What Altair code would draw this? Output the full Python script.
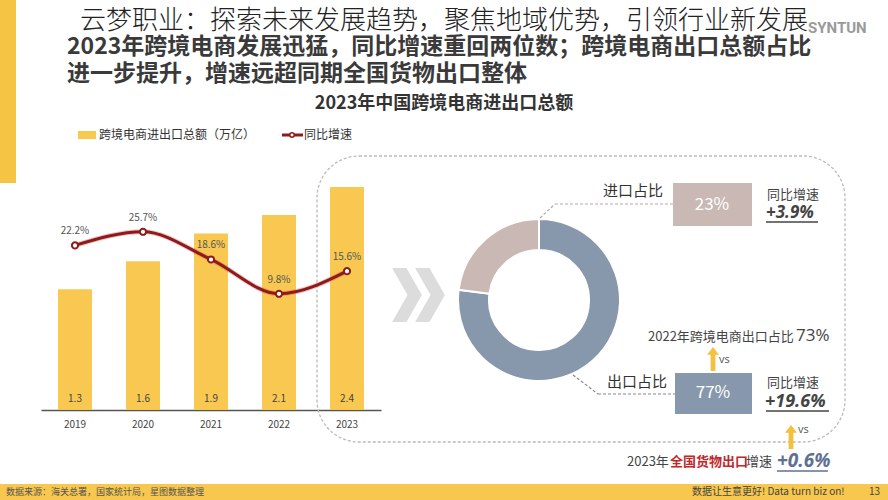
import altair as alt
import pandas as pd

FONT = "Noto Sans CJK SC"
NUMF = "Open Sans"

# ---------------- data ----------------
years = ["2019", "2020", "2021", "2022", "2023"]
amount = [1.3, 1.6, 1.9, 2.1, 2.4]          # 万亿
growth = [22.2, 25.7, 18.6, 9.8, 15.6]      # %

parts = ["出口占比", "进口占比"]
shares = [77, 23]
part_rank = [1, 2]

TITLE = "云梦职业：探索未来发展趋势，聚焦地域优势，引领行业新发展"
LOGO = "SYNTUN"
HEAD1 = "2023年跨境电商发展迅猛，同比增速重回两位数；跨境电商出口总额占比"
HEAD2 = "进一步提升，增速远超同期全国货物出口整体"
SUB = "2023年中国跨境电商进出口总额"
LEG_BAR = "跨境电商进出口总额（万亿）"
LEG_LINE = "同比增速"
IMP_LABEL = "进口占比"
EXP_LABEL = "出口占比"
IMP_VAL = "23%"
EXP_VAL = "77%"
YOY = "同比增速"
IMP_YOY = "+3.9%"
EXP_YOY = "+19.6%"
PREV_TXT = "2022年跨境电商出口占比"
PREV_VAL = "73%"
VS = "vs"
NAT_A = "2023年"
NAT_B = "全国货物出口"
NAT_C = "增速"
NAT_VAL = "+0.6%"
SRC = "数据来源：海关总署，国家统计局，星图数据整理"
SLOGAN = "数据让生意更好! Data turn biz on!"
PAGE = "13"

bars_df = pd.DataFrame({"year": years, "amount": amount, "growth": growth})
donut_df = pd.DataFrame({"part": parts, "share": shares, "rank": part_rank})
ONE = pd.DataFrame({"k": [0]})

YELLOW = "#F8C851"
DARKRED = "#8E1B1B"
IMPC = "#C9B8B3"
EXPC = "#8797AC"

# ---------------- helpers ----------------
def txt(t, x, y, size=12, color="#333333", weight="normal", align="left",
        font=FONT, style="normal", baseline="middle"):
    return alt.Chart(ONE).mark_text(
        text=t, fontSize=size, color=color, fontWeight=weight, align=align,
        font=font, fontStyle=style, baseline=baseline
    ).encode(x=alt.value(x), y=alt.value(y))


def box(x1, x2, y1, y2, color, **kw):
    return alt.Chart(ONE).mark_rect(color=color, **kw).encode(
        x=alt.value(x1), x2=alt.value(x2), y=alt.value(y1), y2=alt.value(y2))


def seg(x1, y1, x2, y2, color="#888888", width=1.0, dash=None):
    kw = dict(color=color, strokeWidth=width)
    if dash:
        kw["strokeDash"] = dash
    return alt.Chart(ONE).mark_rule(**kw).encode(
        x=alt.value(x1), y=alt.value(y1), x2=alt.value(x2), y2=alt.value(y2))


def shape(path, x, y, size, color):
    return alt.Chart(ONE).mark_point(shape=path, size=size, filled=True,
                                     color=color, opacity=1, strokeWidth=0).encode(
        x=alt.value(x), y=alt.value(y))


CHEVRON = "M-0.55,-1 L-0.02,-1 L0.55,0 L-0.02,1 L-0.55,1 L0.02,0 Z"
ARROW = "M0,-1 L0.5,-0.35 L0.2,-0.35 L0.2,1 L-0.2,1 L-0.2,-0.35 L-0.5,-0.35 Z"

X = alt.X("year:N", title=None,
          scale=alt.Scale(domain=years, range=[41, 381], paddingInner=0.5, paddingOuter=0.25),
          axis=alt.Axis(offset=-90, domainColor="#555555", domainWidth=1.5, ticks=False,
                        labelFontSize=10, labelColor="#444444", labelPadding=9,
                        labelFont=FONT, labelAngle=0, grid=False))
YB = alt.Y("amount:Q", title=None, axis=None,
           scale=alt.Scale(domain=[0, 2.4], range=[410, 187], zero=True, nice=False))
YL = alt.Y("growth:Q", title=None, axis=None,
           scale=alt.Scale(domain=[0, 30], range=[332, 215], zero=True, nice=False))

# ---------------- layers ----------------
layers = []

# decorations
layers.append(box(0, 16, 0, 183, "#F6C445"))
layers.append(box(0, 888, 484, 500, "#F7C74E"))

# titles
layers.append(txt(HEAD1, 67, 47, size=23, color="#3a3a3a", weight="bold"))
layers.append(txt(HEAD2, 67, 74, size=23, color="#3a3a3a", weight="bold"))
layers.append(txt(TITLE, 80, 21, size=26, color="#222222", weight=300))
layers.append(txt(LOGO, 808, 28, size=15, color="#9a9a9a", weight="bold", font="Roboto"))
layers.append(txt(SUB, 444, 104, size=18, color="#333333", weight="bold", align="center"))

# legend
layers.append(box(78, 96, 131, 139, YELLOW))
layers.append(txt(LEG_BAR, 99, 135, size=12, color="#333333"))
layers.append(seg(282, 135, 303, 135, color=DARKRED, width=3))
layers.append(alt.Chart(ONE).mark_point(filled=True, fill="white", stroke=DARKRED,
                                        strokeWidth=1.5, size=20, opacity=1).encode(
    x=alt.value(292), y=alt.value(135)))
layers.append(txt(LEG_LINE, 304, 135, size=12, color="#333333"))

# dashed rounded frame
layers.append(alt.Chart(ONE).mark_rect(fillOpacity=0, stroke="#BBBBBB", strokeWidth=1.3,
                                       strokeDash=[3, 2], cornerRadius=42).encode(
    x=alt.value(317), x2=alt.value(845), y=alt.value(156), y2=alt.value(442)))

# bars
base = alt.Chart(bars_df)
layers.append(base.mark_bar(color=YELLOW).encode(x=X, y=YB))
layers.append(base.mark_text(fontSize=10, color="#444444", font=FONT).encode(
    x=X, y=alt.value(399), text=alt.Text("amount:Q", format=".1f")))

# growth line
layers.append(base.mark_line(color="#D9534F", strokeWidth=5, opacity=0.35,
                             interpolate="monotone").encode(x=X, y=YL))
layers.append(base.mark_line(color=DARKRED, strokeWidth=3,
                             interpolate="monotone").encode(x=X, y=YL))
layers.append(base.mark_point(filled=True, fill="white", stroke=DARKRED, strokeWidth=2,
                              size=38, opacity=1).encode(x=X, y=YL))
layers.append(base.transform_calculate(lbl="format(datum.growth, '.1f') + '%'").mark_text(
    fontSize=10, color="#555555", font=FONT, dy=-14).encode(x=X, y=YL, text="lbl:N"))

# chevrons
layers.append(shape(CHEVRON, 407, 295, 2916, "#DCDCDC"))
layers.append(shape(CHEVRON, 430, 295, 2916, "#DCDCDC"))

# donut
layers.append(alt.Chart(donut_df).mark_arc(innerRadius=50, outerRadius=81, stroke="white",
                                           strokeWidth=2).encode(
    theta=alt.Theta("share:Q", stack=True),
    order=alt.Order("rank:Q"),
    color=alt.Color("part:N", legend=None,
                    scale=alt.Scale(domain=parts, range=[EXPC, IMPC])),
    x=alt.value(539), y=alt.value(300)))

# import annotation
layers.append(seg(540, 218, 555, 204, color="#B9A9A9", width=1.2, dash=[3, 2]))
layers.append(seg(555, 204, 673, 204, color="#B9A9A9", width=1.2, dash=[3, 2]))
layers.append(txt(IMP_LABEL, 603, 191, size=15, color="#333333"))
layers.append(box(673, 752, 183, 226, IMPC))
layers.append(txt(IMP_VAL, 712, 205, size=17, color="white", align="center"))
layers.append(txt(YOY, 767, 195, size=13, color="#444444"))
layers.append(txt(IMP_YOY, 766, 213, size=17, color="#444444", weight="bold",
                  style="italic", font=NUMF))
layers.append(seg(766, 222, 818, 222, color="#444444", width=1.3))

# export annotation
layers.append(txt(PREV_TXT, 648, 337, size=13, color="#444444"))
layers.append(txt(PREV_VAL, 796, 336, size=17, color="#444444", font=NUMF))
layers.append(shape(ARROW, 713, 359, 576, "#F2C13F"))
layers.append(txt(VS, 719, 360, size=11, color="#555555", font=NUMF))
layers.append(seg(573, 375, 598, 394, color="#888888", width=1.2, dash=[3, 2]))
layers.append(seg(598, 394, 675, 394, color="#888888", width=1.2, dash=[3, 2]))
layers.append(txt(EXP_LABEL, 607, 382, size=15, color="#333333"))
layers.append(box(675, 752, 373, 414, EXPC))
layers.append(txt(EXP_VAL, 713, 393, size=17, color="white", align="center"))
layers.append(txt(YOY, 767, 383, size=13, color="#444444"))
layers.append(txt(EXP_YOY, 765, 402, size=18, color="#444444", weight="bold",
                  style="italic", font=NUMF))
layers.append(seg(766, 411, 829, 411, color="#444444", width=1.3))

# national comparison
layers.append(shape(ARROW, 791, 437, 576, "#F2C13F"))
layers.append(txt(VS, 798, 430, size=11, color="#555555", font=NUMF))
layers.append(txt(NAT_A, 627, 462, size=13, color="#444444"))
layers.append(txt(NAT_B, 670, 462, size=13, color="#C0282A", weight="bold"))
layers.append(txt(NAT_C, 746, 462, size=13, color="#444444"))
layers.append(txt(NAT_VAL, 777, 461, size=19, color="#5E7094", weight="bold",
                  style="italic", font=NUMF))
layers.append(seg(777, 471, 828, 471, color="#5E7094", width=1.3))

# footer
layers.append(txt(SRC, 6, 492, size=9, color="#555555"))
layers.append(txt(SLOGAN, 692, 492, size=10, color="#444444"))
layers.append(txt(PAGE, 880, 492, size=10, color="#444444", align="right"))

chart = alt.layer(*layers).resolve_scale(
    y="independent", color="independent"
).properties(
    width=888, height=500, autosize=alt.AutoSizeParams(type="none"), padding=0,
    background="white"
).configure_view(stroke=None)

chart.save("out.html", embed_options={"renderer": "svg", "actions": False})
